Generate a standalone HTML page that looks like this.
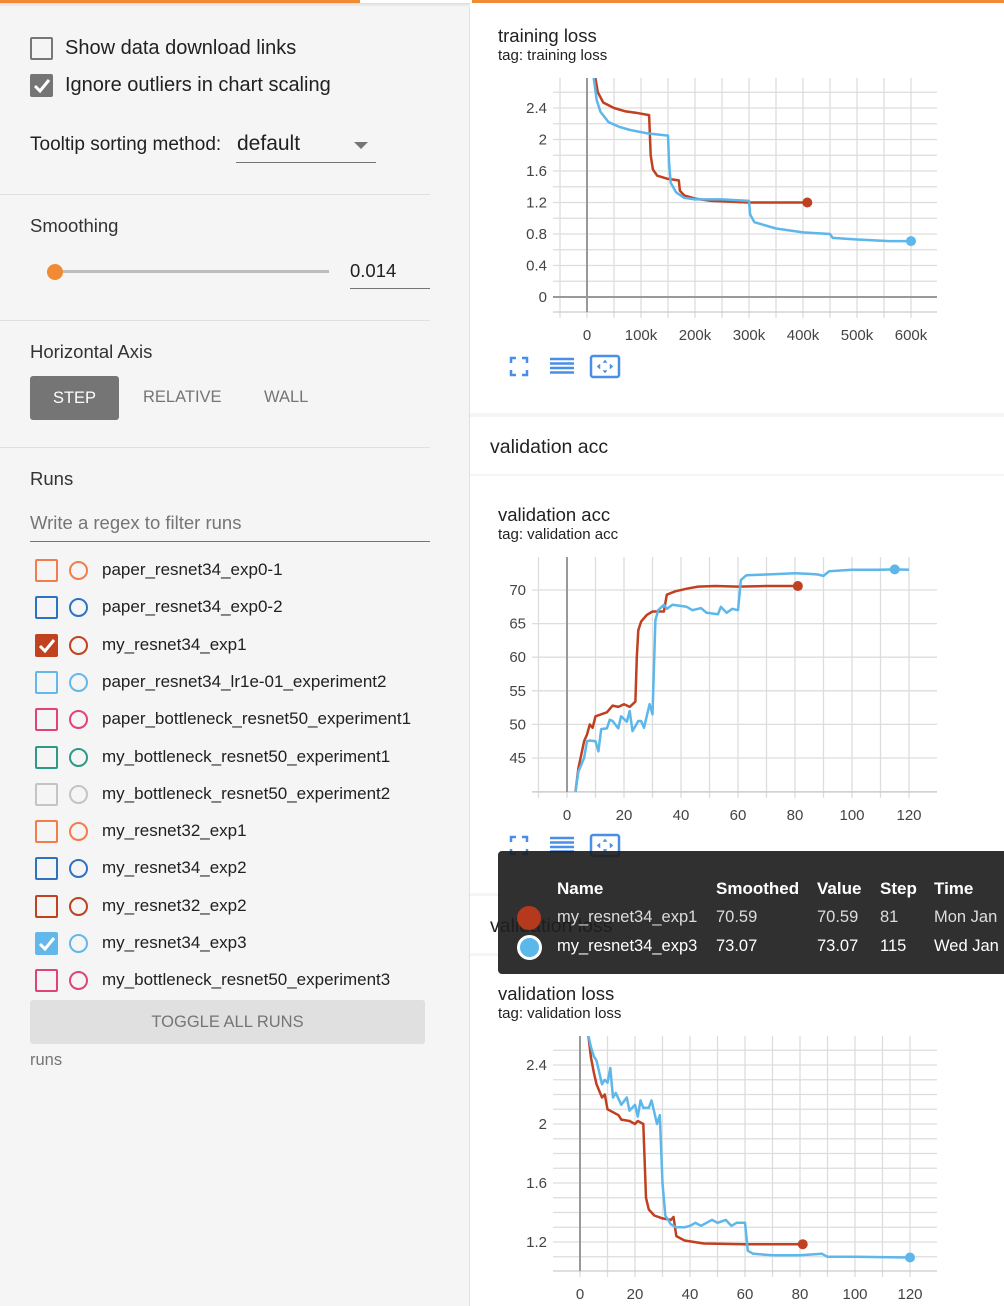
<!DOCTYPE html>
<html><head><meta charset="utf-8">
<style>
*{box-sizing:border-box;margin:0;padding:0}
body{width:1004px;height:1306px;overflow:hidden;background:#f5f5f5;font-family:"Liberation Sans",sans-serif;position:relative;color:#212121}
.a{position:absolute}
.t{position:absolute;white-space:nowrap}
.cb{position:absolute;width:23px;height:23px;border:2px solid;border-radius:2px}
.rc{position:absolute;width:19px;height:19px;border:2px solid;border-radius:50%}
.rn{position:absolute;left:102px;font-size:17px;color:#212121;white-space:nowrap}
.card{position:absolute;left:470px;width:534px;background:#fff}
.ttl{font-size:18.5px;color:#212121}
.tag{font-size:15px;color:#212121}
svg text{font-family:"Liberation Sans",sans-serif;font-size:15px;fill:#444}
</style></head><body>
<div class="a" style="left:0;top:0;width:1004px;height:3px;background:#f08a35"></div>
<div class="a" style="left:360px;top:0;width:112px;height:3px;background:#fff"></div>
<div class="a" style="left:0;top:3px;width:470px;height:4px;background:linear-gradient(#ddd,#f5f5f5)"></div>

<div class="a" style="left:0;top:7px;width:470px;height:1299px;border-right:1px solid #e0e0e0">
</div>
<div class="cb" style="left:30px;top:37px;border-color:#777"></div>
<div class="t" style="left:65px;top:37px;font-size:20px">Show data download links</div>
<div class="cb" style="left:30px;top:74px;border-color:#757575;background:#757575"><svg width="19" height="19" style="position:absolute;left:0;top:0"><path d="M3 10 L8 15 L17 4" stroke="#fff" stroke-width="3" fill="none"/></svg></div>
<div class="t" style="left:65px;top:74px;font-size:20px">Ignore outliers in chart scaling</div>
<div class="t" style="left:30px;top:134px;font-size:19px">Tooltip sorting method:</div>
<div class="a" style="left:236px;top:130px;width:140px;height:33px;border-bottom:1px solid #757575">
 <span class="t" style="left:1px;top:2px;font-size:21px">default</span>
 <span class="a" style="left:118px;top:12px;width:0;height:0;border-left:7px solid transparent;border-right:7px solid transparent;border-top:7px solid #757575"></span>
</div>
<div class="a" style="left:0;top:194px;width:430px;height:1px;background:#e0e0e0"></div>
<div class="t" style="left:30px;top:215px;font-size:18.5px;color:#333">Smoothing</div>
<div class="a" style="left:55px;top:270px;width:274px;height:3px;background:#bdbdbd"></div>
<div class="a" style="left:47px;top:264px;width:16px;height:16px;border-radius:50%;background:#f08a35"></div>
<div class="a" style="left:350px;top:256px;width:80px;height:33px;border-bottom:1px solid #757575"><span class="t" style="left:0;top:4px;font-size:18.5px">0.014</span></div>
<div class="a" style="left:0;top:320px;width:430px;height:1px;background:#e0e0e0"></div>
<div class="t" style="left:30px;top:341px;font-size:18.5px;color:#333">Horizontal Axis</div>
<div class="a" style="left:30px;top:376px;width:89px;height:44px;background:#757575;border-radius:3px;color:#fff;font-size:16.5px;text-align:center;line-height:44px">STEP</div>
<div class="t" style="left:143px;top:388px;font-size:16.5px;color:#757575">RELATIVE</div>
<div class="t" style="left:264px;top:388px;font-size:16.5px;color:#757575">WALL</div>
<div class="a" style="left:0;top:447px;width:430px;height:1px;background:#e0e0e0"></div>
<div class="t" style="left:30px;top:468px;font-size:18.5px;color:#333">Runs</div>
<div class="a" style="left:30px;top:508px;width:400px;height:34px;border-bottom:1px solid #757575"><span class="t" style="left:0;top:4px;font-size:18.5px;color:#757575">Write a regex to filter runs</span></div>
<div id="runs"></div>
<div class="a" style="left:30px;top:1000px;width:395px;height:44px;background:#e0e0e0;border-radius:3px;color:#757575;font-size:16.5px;text-align:center;line-height:44px">TOGGLE ALL RUNS</div>
<div class="t" style="left:30px;top:1051px;font-size:16.5px;color:#757575">runs</div>

<div class="card" style="top:3px;height:410px"></div>
<div class="t ttl" style="left:498px;top:25px">training loss</div>
<div class="t tag" style="left:498px;top:47px">tag: training loss</div>
<div class="card" style="top:417px;height:57px"></div>
<div class="t" style="left:490px;top:436px;font-size:19.5px">validation acc</div>
<div class="card" style="top:476px;height:417px"></div>
<div class="t ttl" style="left:498px;top:504px">validation acc</div>
<div class="t tag" style="left:498px;top:526px">tag: validation acc</div>
<div class="card" style="top:896px;height:57px"></div>
<div class="t" style="left:490px;top:915px;font-size:19.5px">validation loss</div>
<div class="card" style="top:956px;height:350px"></div>
<div class="t ttl" style="left:498px;top:983px">validation loss</div>
<div class="t tag" style="left:498px;top:1005px">tag: validation loss</div>

<svg id="chart" class="a" style="left:0;top:0" width="1004" height="1306"></svg>

<div class="a" style="left:498px;top:851px;width:510px;height:123px;background:rgba(30,30,30,0.92);border-radius:4px;color:#fff;font-size:16.5px">
 <span class="t" style="left:59px;top:28px;font-weight:bold;font-size:17px">Name</span>
 <span class="t" style="left:218px;top:28px;font-weight:bold;font-size:17px">Smoothed</span>
 <span class="t" style="left:319px;top:28px;font-weight:bold;font-size:17px">Value</span>
 <span class="t" style="left:382px;top:28px;font-weight:bold;font-size:17px">Step</span>
 <span class="t" style="left:436px;top:28px;font-weight:bold;font-size:17px">Time</span>
 <span class="a" style="left:19px;top:55px;width:24px;height:24px;border-radius:50%;background:#b5391c"></span>
 <span class="t" style="left:59px;top:57px;color:#ddd">my_resnet34_exp1</span><span class="t" style="left:218px;top:57px;color:#ddd">70.59</span><span class="t" style="left:319px;top:57px;color:#ddd">70.59</span><span class="t" style="left:382px;top:57px;color:#ddd">81</span><span class="t" style="left:436px;top:57px;color:#ddd">Mon Jan</span>
 <span class="a" style="left:19px;top:84px;width:25px;height:25px;border-radius:50%;background:#5bb8ea;border:3px solid #fff"></span>
 <span class="t" style="left:59px;top:86px">my_resnet34_exp3</span><span class="t" style="left:218px;top:86px">73.07</span><span class="t" style="left:319px;top:86px">73.07</span><span class="t" style="left:382px;top:86px">115</span><span class="t" style="left:436px;top:86px">Wed Jan</span>
</div>

<script>
const runNames=["paper_resnet34_exp0-1","paper_resnet34_exp0-2","my_resnet34_exp1","paper_resnet34_lr1e-01_experiment2","paper_bottleneck_resnet50_experiment1","my_bottleneck_resnet50_experiment1","my_bottleneck_resnet50_experiment2","my_resnet32_exp1","my_resnet34_exp2","my_resnet32_exp2","my_resnet34_exp3","my_bottleneck_resnet50_experiment3"];
const runColors=["#f27c4b","#2f73c0","#c0421f","#62b8eb","#e0437a","#2e9a86","#c4c4c4","#f27c4b","#2f73c0","#c0421f","#62b8eb","#e0437a"];
const runChecked=[0,0,1,0,0,0,0,0,0,0,1,0];
const runsEl=document.getElementById('runs');
runNames.forEach((n,i)=>{
  const y=570+i*37.3;
  const cb=document.createElement('div');cb.className='cb';
  
  
  cb.style.left='35px';cb.style.top=(y-11)+'px';cb.style.borderColor=runColors[i];
  if(runChecked[i]){cb.style.background=runColors[i];cb.innerHTML='<svg width="19" height="19" style="position:absolute;left:0;top:0"><path d="M3 10 L8 15 L17 4" stroke="#fff" stroke-width="3" fill="none"/></svg>';}
  runsEl.appendChild(cb);
  const rc=document.createElement('div');rc.className='rc';
  
  
  rc.style.left='69px';rc.style.top=(y-9)+'px';rc.style.borderColor=runColors[i];
  runsEl.appendChild(rc);
  const t=document.createElement('div');t.className='rn';
  
  
  t.style.top=(y-10)+'px';t.textContent=n;
  runsEl.appendChild(t);
});

const tlRedX=[15,20,30,50,70,90,115,118,122,130,150,170,172,180,200,230,300,350,408];
const tlRedY=[2.8,2.6,2.47,2.4,2.36,2.34,2.31,1.8,1.62,1.54,1.5,1.48,1.35,1.29,1.25,1.22,1.2,1.2,1.2];
const tlBlueX=[12,18,25,40,60,80,110,150,152,155,165,180,200,250,300,302,310,350,400,450,455,500,560,600];
const tlBlueY=[2.8,2.5,2.35,2.22,2.16,2.12,2.08,2.05,1.7,1.45,1.33,1.26,1.24,1.24,1.22,1.05,0.95,0.87,0.82,0.8,0.75,0.73,0.71,0.71];
const tlXTicks=[0,100,200,300,400,500,600];
const tlXTickLabels=["0","100k","200k","300k","400k","500k","600k"];
const tlYTicks=[0,0.4,0.8,1.2,1.6,2,2.4];

const vaRedX=[3,4,5,6,7,8,9,10,12,14,16,18,20,22,24,24.5,25,26,28,30,34,35,38,42,46,52,60,70,81];
const vaRedY=[40,43.5,45.5,47.5,48.5,50,49.5,51.2,51.5,51.8,52.8,52.6,53,52.6,53.4,60,64,65.3,66.3,66.8,66.8,69.3,69.8,70.2,70.5,70.6,70.5,70.6,70.59];
const vaBlueX=[3,4,5,6,7,8,10,11,12,14,15,16,18,19,21,22,23,25,26,27,29,30,31,32,34,35,37,42,44,47,49,53,54,56,58,60,61,63,70,80,85,88,90,92,100,110,115,120];
const vaBlueY=[40,43,44,45,47.5,47.6,47.5,46,49.3,49.4,50.7,50.5,49.4,51.2,50.4,52,49,50.5,50.5,49.5,53,51.5,65.5,67,67.8,67.2,67.8,67.5,67,67.3,66.6,66.4,67.5,66.6,67.2,67,71.5,72.2,72.3,72.5,72.4,72.3,72.1,72.8,73,73,73.07,73];
const vaXTicks=[0,20,40,60,80,100,120];
const vaYTicks=[45,50,55,60,65,70];

const vlRedX=[3,4,5,6,8,9,10,12,14,15,18,20,21,23,24,25,27,30,33,34,35,38,45,60,81];
const vlRedY=[2.6,2.45,2.35,2.27,2.18,2.2,2.1,2.08,2.06,2.03,2.02,2.0,2.02,2.0,1.5,1.42,1.38,1.36,1.35,1.37,1.24,1.21,1.19,1.185,1.185];
const vlBlueX=[3,4,5,6,8,9,10,11,12,13,15,17,18,20,21,22,23,25,26,28,29,30,31,33,35,38,40,42,44,46,48,50,53,55,57,60,61,63,70,80,88,90,100,120];
const vlBlueY=[2.6,2.52,2.46,2.43,2.27,2.3,2.28,2.38,2.18,2.21,2.13,2.18,2.09,2.13,2.05,2.16,2.11,2.11,2.16,2.0,2.06,1.6,1.38,1.32,1.3,1.3,1.31,1.33,1.31,1.33,1.35,1.33,1.35,1.31,1.33,1.33,1.14,1.12,1.11,1.11,1.12,1.1,1.1,1.095];
const vlXTicks=[0,20,40,60,80,100,120];
const vlYTicks=[1.2,1.6,2,2.4];

const NS='http://www.w3.org/2000/svg';
const svg=document.getElementById('chart');
function el(tag,attrs,parent){const e=document.createElementNS(NS,tag);for(const k in attrs)e.setAttribute(k,attrs[k]);(parent||svg).appendChild(e);return e;}

function chart(c){
  const g=el('g',{});
  
  
  const sx=v=>c.x0+(v-c.xv0)*(c.x1-c.x0)/(c.xv1-c.xv0);
  const sy=v=>c.y0+(v-c.yv0)*(c.y1-c.y0)/(c.yv1-c.yv0);
  const invx=p=>c.xv0+(p-c.x0)*(c.xv1-c.xv0)/(c.x1-c.x0);
  const invy=p=>c.yv0+(p-c.y0)*(c.yv1-c.yv0)/(c.y1-c.y0);
  const xa=invx(c.L),xb=invx(c.R);
  for(let v=Math.ceil(xa/c.gx)*c.gx;v<=xb+1e-9;v+=c.gx){const x=sx(v);
    el('line',{x1:x,x2:x,y1:c.T,y2:c.B+6,stroke:'#ddd','stroke-width':1.3},g);}
  const ya=invy(c.B),yb=invy(c.T);
  for(let v=Math.ceil(ya/c.gy-1e-9)*c.gy;v<=yb+1e-9;v+=c.gy){const y=sy(v);
    el('line',{x1:c.L,x2:c.R,y1:y,y2:y,stroke:'#ddd','stroke-width':1.3},g);}
  el('line',{x1:c.L,x2:c.R,y1:c.B,y2:c.B,stroke:'#ccc','stroke-width':1.3},g);
  if(c.xv0<=0&&sx(0)>c.L) el('line',{x1:sx(0),x2:sx(0),y1:c.T,y2:c.B,stroke:'#999','stroke-width':2},g);
  if(c.zeroY) el('line',{x1:c.L,x2:c.R,y1:sy(0),y2:sy(0),stroke:'#999','stroke-width':2},g);
  c.xt.forEach((v,i)=>{const t=el('text',{x:sx(v),y:c.B+28,'text-anchor':'middle'},g);t.textContent=c.xl?c.xl[i]:String(v);});
  c.yt.forEach(v=>{const t=el('text',{x:c.L-6,y:sy(v)+5,'text-anchor':'end'},g);t.textContent=String(v);});
  const clip='clip'+c.name;
  const cp=el('clipPath',{id:clip},g);el('rect',{x:c.L,y:c.T,width:c.R-c.L,height:c.B-c.T},cp);
  c.series.forEach(s=>{
    const d=s.x.map((v,i)=>(i?'L':'M')+sx(v).toFixed(1)+' '+sy(s.y[i]).toFixed(1)).join(' ');
    const p=el('path',{d:d,stroke:s.color,'stroke-width':2.5,fill:'none','clip-path':'url(#'+clip+')','stroke-linejoin':'round'},g);
    
    
    const n=s.x.length-1,di=s.dot!=null?s.dot:n;
    const dot=el('circle',{cx:sx(s.x[di]),cy:sy(s.y[di]),r:5,fill:s.color},g);
    
    
  });
  const iy=c.B+c.iconDy;
  const ic=el('g',{stroke:'#4a8fe7','stroke-width':2.5,fill:'none'},g);
  
  
  el('path',{d:`M511 ${iy+4}v-5h5 M522 ${iy-1}h5v5 M527 ${iy+11}v5h-5 M516 ${iy+16}h-5v-5`},ic);
  for(let k=0;k<4;k++) el('line',{x1:550,x2:574,y1:iy+k*4.5,y2:iy+k*4.5},ic);
  el('rect',{x:591,y:iy-3,width:28,height:21,rx:2},ic);
  el('path',{d:`M597 ${iy+7.5}l3 -2.5v5z M613 ${iy+7.5}l-3 -2.5v5z M605 ${iy+1}l-2 2.5h4z M605 ${iy+14}l-2 -2.5h4z`,fill:'#4a8fe7','stroke-width':0.5},ic);
}
chart({name:'training-loss-chart',L:553,R:937,T:78,B:312,x0:587,x1:911,xv0:0,xv1:600,y0:297,y1:108,yv0:0,yv1:2.4,gx:50,gy:0.2,zeroY:true,
  xt:tlXTicks,xl:tlXTickLabels,yt:tlYTicks,iconDy:47,
  series:[{name:'training-loss-exp1-line',x:tlRedX,y:tlRedY,color:'#c0401f'},{name:'training-loss-exp3-line',x:tlBlueX,y:tlBlueY,color:'#5db7eb'}]});
chart({name:'validation-acc-chart',L:532,R:937,T:557,B:792,x0:567,x1:909,xv0:0,xv1:120,y0:590,y1:758,yv0:70,yv1:45,gx:10,gy:5,
  xt:vaXTicks,yt:vaYTicks,iconDy:46,
  series:[{name:'validation-acc-exp1-line',x:vaRedX,y:vaRedY,color:'#c0401f'},{name:'validation-acc-exp3-line',x:vaBlueX,y:vaBlueY,color:'#5db7eb',dot:vaBlueX.length-2}]});
chart({name:'validation-loss-chart',L:553,R:937,T:1036,B:1271,x0:580,x1:910,xv0:0,xv1:120,y0:1242,y1:1065,yv0:1.2,yv1:2.4,gx:10,gy:0.1,
  xt:vlXTicks,yt:vlYTicks,iconDy:60,
  series:[{name:'validation-loss-exp1-line',x:vlRedX,y:vlRedY,color:'#c0401f'},{name:'validation-loss-exp3-line',x:vlBlueX,y:vlBlueY,color:'#5db7eb'}]});
</script>
</body></html>
